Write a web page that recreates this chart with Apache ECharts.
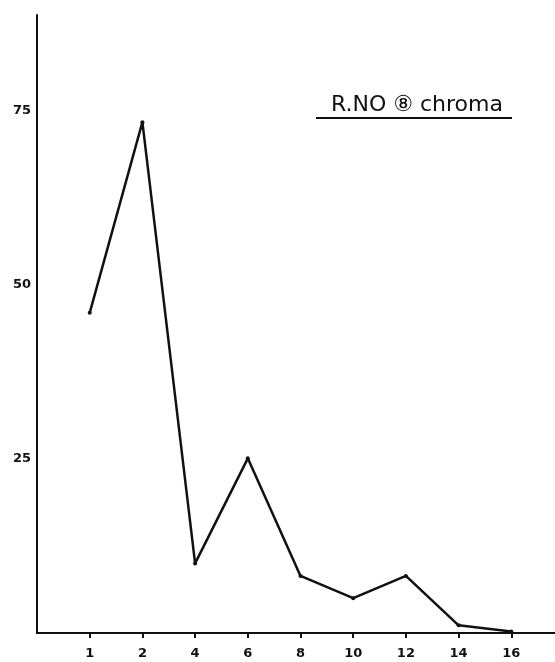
<!DOCTYPE html>
<html>
<head>
<meta charset="utf-8">
<script src="https://cdn.jsdelivr.net/npm/echarts@6/dist/echarts.min.js"></script>
<style>
html,body{margin:0;padding:0;background:#fff;}
#chart{width:555px;height:662px;}
</style>
</head>
<body>
<div id="chart"></div>
<script>
const categories = ['1', '2', '4', '6', '8', '10', '12', '14', '16'];
const values = [46, 73.4, 10, 25.1, 8.2, 5, 8.2, 1.1, 0.2];
const yTickLabels = [25, 50, 75];
const titleText = 'R.NO ⑧ chroma';

const xData = [''].concat(categories, ['']);
const yData = [null].concat(values, [null]);

const chart = echarts.init(document.getElementById('chart'));
chart.setOption({
  animation: false,
  backgroundColor: '#fff',
  grid: { left: 37, right: -9, top: 15, bottom: 29, containLabel: false, outerBoundsMode: 'none' },
  title: {
    text: titleText,
    left: 326, top: 89,
    textStyle: { fontFamily: 'DejaVu Sans', fontSize: 22, fontWeight: 'normal', color: '#111' }
  },
  graphic: [{
    type: 'line',
    shape: { x1: 316, y1: 118, x2: 512, y2: 118 },
    style: { stroke: '#111', lineWidth: 2 }
  }],
  xAxis: {
    type: 'category',
    data: xData,
    boundaryGap: false,
    axisLine: { lineStyle: { color: '#111', width: 2 } },
    axisTick: {
      show: true, length: 5, inside: false,
      lineStyle: { color: '#111', width: 2 },
      interval: (i, v) => v !== ''
    },
    axisLabel: {
      interval: 0, margin: 14,
      fontFamily: 'DejaVu Sans', fontSize: 13, fontWeight: 'bold', color: '#111'
    },
    splitLine: { show: false }
  },
  yAxis: {
    type: 'value',
    min: 0, max: 88.8, interval: 25,
    axisLine: { show: true, lineStyle: { color: '#111', width: 2 } },
    axisTick: { show: false },
    splitLine: { show: false },
    axisLabel: {
      margin: 6,
      fontFamily: 'DejaVu Sans', fontSize: 13, fontWeight: 'bold', color: '#111',
      formatter: v => yTickLabels.includes(v) ? String(v) : ''
    }
  },
  series: [{
    type: 'line',
    data: yData,
    connectNulls: false,
    symbol: 'circle',
    symbolSize: 4,
    itemStyle: { color: '#111' },
    lineStyle: { color: '#111', width: 2.5 }
  }]
});
</script>
</body>
</html>
